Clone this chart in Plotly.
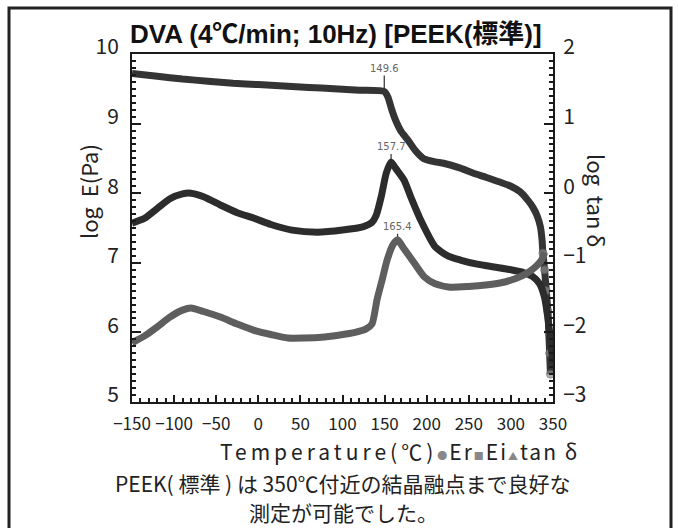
import plotly.graph_objects as go

# ---------------- data ----------------
er_T = [-150, -120, -90, -60, -30, 0, 30, 60, 90, 120, 149.6, 154, 158, 163, 170, 178,
        186, 196, 210, 220, 240, 255, 270, 287, 300, 311, 320, 326, 331, 335, 337, 338,
        340, 342, 344, 345, 346, 347]
er_val = [9.72, 9.68, 9.64, 9.61, 9.58, 9.56, 9.54, 9.52, 9.50, 9.48, 9.46, 9.38, 9.22,
          9.05, 8.88, 8.76, 8.62, 8.50, 8.45, 8.43, 8.36, 8.29, 8.23, 8.16, 8.10, 8.02,
          7.90, 7.80, 7.68, 7.52, 7.33, 7.14, 6.90, 6.60, 6.30, 6.00, 5.70, 5.40]

ei_T = [-150, -135, -120, -105, -90, -80, -65, -45, -25, -5, 15, 40, 70, 100, 125, 135,
        140, 146, 152, 157.7, 163, 173, 182, 193, 210, 225, 240, 260, 280, 300, 315, 326,
        334, 340, 344, 347, 350]
ei_val = [7.57, 7.64, 7.78, 7.92, 7.99, 8.00, 7.95, 7.83, 7.72, 7.64, 7.55, 7.47, 7.44,
          7.47, 7.52, 7.58, 7.68, 7.95, 8.29, 8.45, 8.36, 8.19, 7.92, 7.61, 7.23, 7.10,
          7.04, 6.98, 6.94, 6.90, 6.86, 6.80, 6.70, 6.50, 6.20, 5.90, 5.55]

tan_T = [-150, -135, -120, -105, -90, -80, -65, -45, -25, -5, 15, 35, 55, 75, 95, 115,
         128, 135, 141, 147, 153, 160, 165.4, 172, 185, 197, 210, 228, 250, 270, 287, 305,
         319, 330, 337, 340]
tan_val = [-2.15, -2.05, -1.92, -1.78, -1.68, -1.65, -1.70, -1.78, -1.88, -1.97, -2.03,
           -2.08, -2.08, -2.07, -2.04, -2.00, -1.95, -1.88, -1.53, -1.25, -0.96, -0.74,
           -0.67, -0.78, -1.00, -1.20, -1.30, -1.35, -1.34, -1.32, -1.29, -1.23, -1.15,
           -1.05, -0.95, -0.85]

peak_er = (149.6, 9.46, "149.6")
peak_ei = (157.7, 8.45, "157.7")
peak_tan = (165.4, -0.67, "165.4")

x_ticks = [-150, -100, -50, 0, 50, 100, 150, 200, 250, 300, 350]
y1_ticks = [5, 6, 7, 8, 9, 10]
y2_ticks = [-3, -2, -1, 0, 1, 2]

title = "DVA (4℃/min; 10Hz) [PEEK(標準)]"
y1_title = "log  E(Pa)"
y2_title = "log  tan δ"
x_title = "Temperature(℃)"
legend_names = ["Er", "Ei", "tan δ"]
caption1 = "PEEK( 標準 ) は 350℃付近の結晶融点まで良好な"
caption2 = "測定が可能でした。"

# ---------------- figure ----------------
JP = "Noto Sans CJK JP"
L, R, T, B = 132, 553, 54, 402     # plot area in pixels
W, H = 678, 528


def px(x):
    return (x - L) / (R - L)


def py(y):
    return (B - y) / (B - T)


fig = go.Figure()

er_marker_sizes = [0 if t < 338 else 8 for t in er_T]

fig.add_trace(go.Scatter(
    x=er_T, y=er_val, mode="lines+markers", name="Er",
    line=dict(color="#343434", width=7, shape="spline", smoothing=0.6),
    marker=dict(symbol="circle", size=er_marker_sizes, color="#8a8a8a",
                line=dict(color="#666", width=1)),
    showlegend=False))
fig.add_trace(go.Scatter(
    x=ei_T, y=ei_val, mode="lines", name="Ei",
    line=dict(color="#2c2c2c", width=7, shape="spline", smoothing=0.6),
    showlegend=False))
fig.add_trace(go.Scatter(
    x=tan_T, y=tan_val, mode="lines", name="tan δ", yaxis="y2",
    line=dict(color="#5e5e5e", width=7, shape="spline", smoothing=0.6),
    showlegend=False))

axis_common = dict(showline=True, linecolor="#1a1a1a", linewidth=2, ticks="inside",
                   tickcolor="#1a1a1a", zeroline=False, showgrid=False, automargin=False)

fig.update_layout(
    width=W, height=H,
    margin=dict(l=L, r=W - R, t=T, b=H - B),
    paper_bgcolor="white", plot_bgcolor="white",
    xaxis=dict(range=[-150, 350], tickvals=x_ticks, ticklen=7, tickwidth=1.5,
               tickangle=0, tickfont=dict(family=JP, size=17, color="#222"),
               ticklabelstandoff=6,
               minor=dict(dtick=10, ticklen=4, ticks="inside", tickcolor="#1a1a1a"),
               mirror=True, **axis_common),
    yaxis=dict(range=[5, 10], tickvals=y1_ticks, ticklen=9, tickwidth=1.5,
               tickfont=dict(family=JP, size=21, color="#222"),
               minor=dict(dtick=0.1, ticklen=4, ticks="inside", tickcolor="#1a1a1a"),
               ticklabelstandoff=7, ticklabelshift=-7,
               **axis_common),
    yaxis2=dict(range=[-3, 2], tickvals=y2_ticks, overlaying="y", side="right",
                ticklen=9, tickwidth=1.5,
                tickfont=dict(family=JP, size=21, color="#222"),
                minor=dict(dtick=0.1, ticklen=4, ticks="inside", tickcolor="#1a1a1a"),
                ticklabelstandoff=4, ticklabelshift=-7,
                **axis_common),
)

C = dict(xref="paper", yref="paper", showarrow=False, xanchor="center", yanchor="middle")

# title
fig.add_annotation(text="<b>" + title + "</b>", x=px(336), y=py(34),
                   font=dict(family="Liberation Sans, " + JP, size=26, color="#111"), **C)
# axis titles
fig.add_annotation(text=y1_title, x=px(88), y=py(192), textangle=-90,
                   font=dict(family=JP, size=22, color="#222"), **C)
fig.add_annotation(text=y2_title, x=px(597), y=py(200), textangle=90,
                   font=dict(family=JP, size=22, color="#222"), **C)
# x title + legend
sym = ["●", "■", "▲"]
leg = "".join("<span style='color:#888;font-size:10px'>%s</span>%s" % (s, n)
              for s, n in zip(sym, legend_names))
fig.add_annotation(
    text="<span style='letter-spacing:4px'>" + x_title + "</span>"
         "<span style='letter-spacing:2px'>" + leg + "</span>",
    x=px(399), y=py(451), font=dict(family=JP, size=21, color="#222"), **C)
# caption
fig.add_annotation(text=caption1, x=px(343), y=py(483),
                   font=dict(family=JP, size=21, color="#222"), **C)
fig.add_annotation(text=caption2, x=px(343), y=py(512),
                   font=dict(family=JP, size=21, color="#222"), **C)

# peak markers
for (pxv, pyv, lab), yr, ay in [(peak_er, "y", -16), (peak_ei, "y", -8),
                                (peak_tan, "y2", -6)]:
    fig.add_annotation(x=pxv, y=pyv, xref="x", yref=yr, text=lab, showarrow=True,
                       arrowhead=0, arrowwidth=1.2, arrowcolor="#333", ax=0, ay=ay,
                       standoff=3, font=dict(family="DejaVu Sans", size=10, color="#666"),
                       yanchor="bottom")

# outer frame
fig.add_shape(type="rect", xref="paper", yref="paper",
              x0=px(9), x1=px(671), y0=py(545), y1=py(8),
              line=dict(color="#222", width=3))

fig.write_html("out.html")
